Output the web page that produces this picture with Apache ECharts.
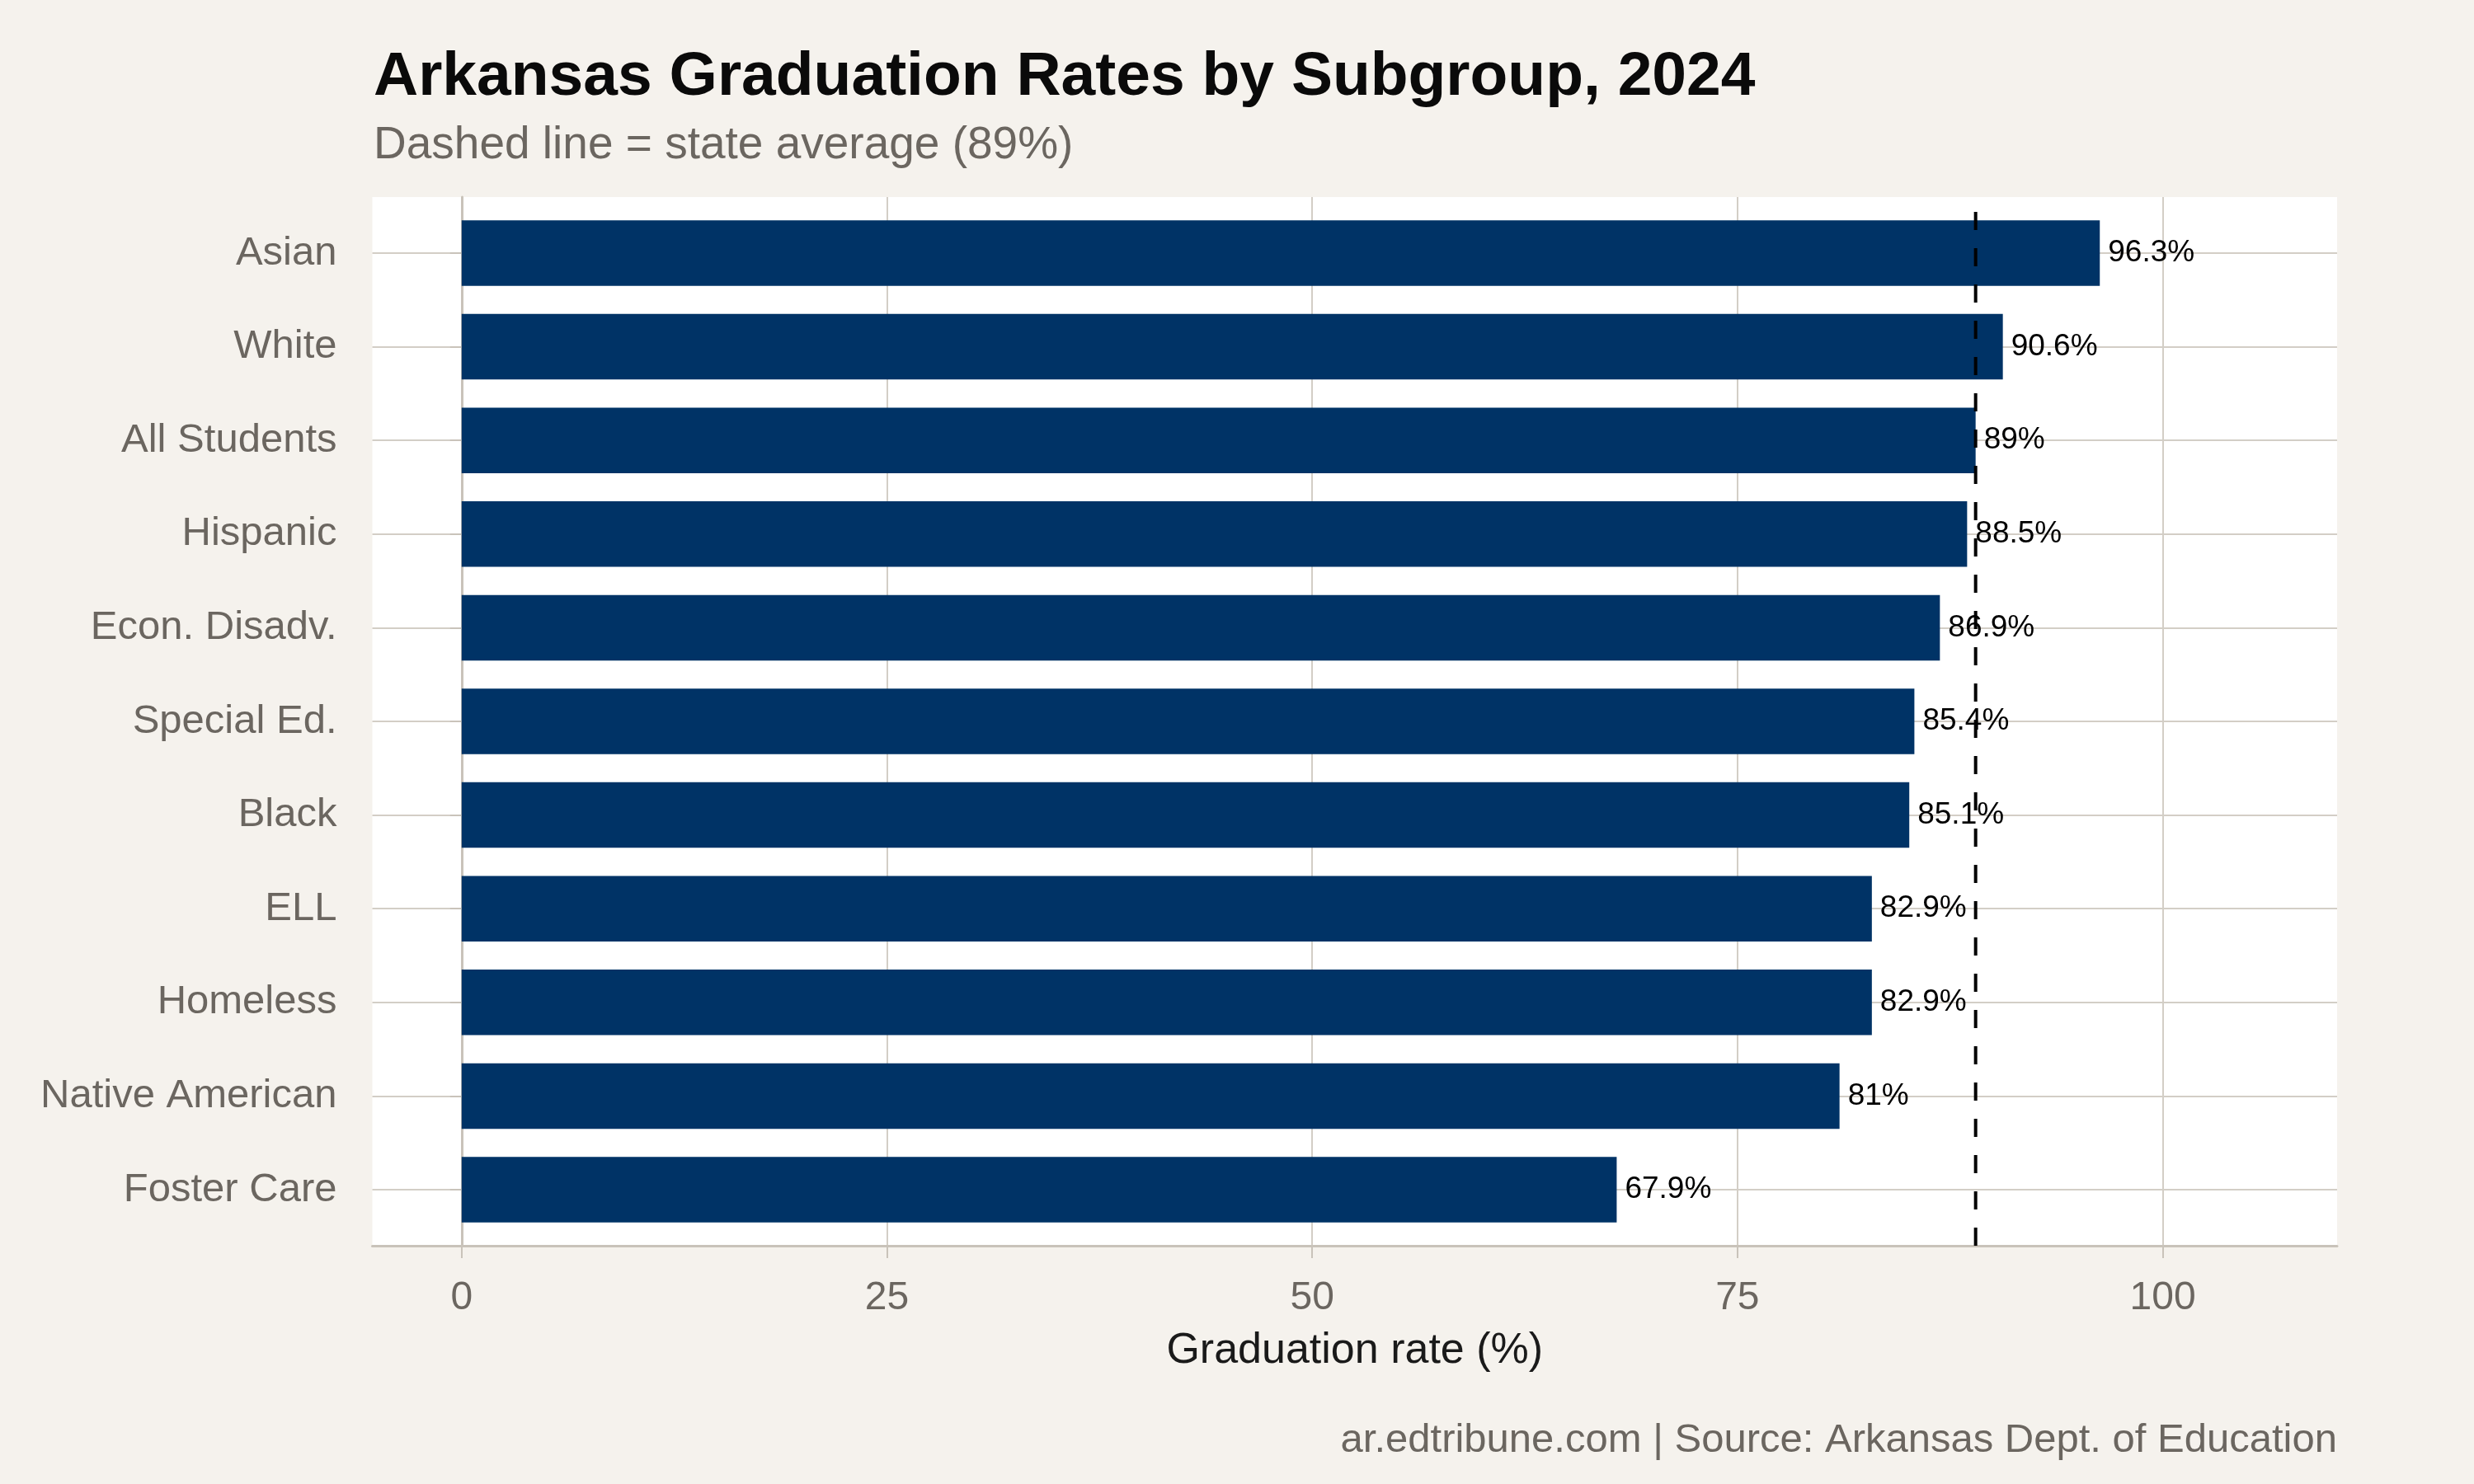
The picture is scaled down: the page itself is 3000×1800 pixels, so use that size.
<!DOCTYPE html>
<html>
<head>
<meta charset="utf-8">
<script src="https://cdn.jsdelivr.net/npm/echarts@6/dist/echarts.min.js"></script>
<style>
html,body{margin:0;padding:0;background:#f5f2ed;}
#chart{width:3000px;height:1800px;}
</style>
</head>
<body>
<div id="chart"></div>
<script>
const categories = ['Asian','White','All Students','Hispanic','Econ. Disadv.','Special Ed.','Black','ELL','Homeless','Native American','Foster Care'];
const rates = [96.3, 90.6, 89, 88.5, 86.9, 85.4, 85.1, 82.9, 82.9, 81, 67.9];
const stateAverage = 89;
const xTicks = [0, 25, 50, 75, 100];
const titleText = 'Arkansas Graduation Rates by Subgroup, 2024';
const subtitleText = 'Dashed line = state average (89%)';
const captionText = 'ar.edtribune.com | Source: Arkansas Dept. of Education';

const FONT = '"Liberation Sans", Arial, Helvetica, sans-serif';
const GRAY = '#6b6660';
const GRID = '#d3cec6';
const AXIS = '#c9c3ba';

const chart = echarts.init(document.getElementById('chart'), null, {renderer: 'canvas'});
const L = 451.5, R = 3000 - 2834, T = 239, B = 1800 - 1511;

chart.setOption({
  backgroundColor: '#f5f2ed',
  animation: false,
  graphic: [
    {type:'text', left: 453, top: 57, style:{text: titleText, font: 'bold 75px ' + FONT, fill:'#0a0a0a'}},
    {type:'text', left: 453, top: 149, style:{text: subtitleText, font: '55px ' + FONT, fill: GRAY}},
    {type:'text', right: 166, top: 1723, style:{text: captionText, font: '49px ' + FONT, fill: GRAY}}
  ],
  grid: [
    {left: L, right: R, top: T, bottom: B, show: true, backgroundColor: '#ffffff', borderWidth: 0},
    {left: L, right: R, top: 307, bottom: 1800 - 1443, show: false}
  ],
  xAxis: [
    {
      type: 'value', gridIndex: 0, min: -5.25, max: 110.25,
      axisLine: {show: true, onZero: false, lineStyle: {color: AXIS, width: 3}},
      axisTick: {show: true, length: 15, customValues: xTicks, lineStyle: {color: AXIS, width: 2}},
      axisLabel: {show: true, customValues: xTicks, margin: 40, color: GRAY, fontSize: 48, fontFamily: FONT},
      splitLine: {show: true, lineStyle: {color: GRID, width: 2}},
      name: 'Graduation rate (%)', nameLocation: 'middle', nameGap: 102,
      nameTextStyle: {color: '#1a1a1a', fontSize: 52, fontFamily: FONT}
    },
    {
      type: 'value', gridIndex: 1, min: -5.25, max: 110.25, show: false
    }
  ],
  yAxis: [
    {
      type: 'value', gridIndex: 0, min: 0, max: 1,
      axisLine: {show: true, lineStyle: {color: AXIS, width: 3}},
      axisTick: {show: false}, axisLabel: {show: false}, splitLine: {show: false}
    },
    {
      type: 'category', gridIndex: 1, data: categories, inverse: true, boundaryGap: false,
      axisLine: {show: false},
      axisTick: {show: true, length: 14, lineStyle: {color: AXIS, width: 2}},
      axisLabel: {margin: 43, color: GRAY, fontSize: 49, fontFamily: FONT, padding: [8, 0, 0, 0]},
      splitLine: {show: true, lineStyle: {color: GRID, width: 2}}
    }
  ],
  series: [
    {
      type: 'bar', xAxisIndex: 1, yAxisIndex: 1, data: rates, barWidth: '70%', clip: false,
      itemStyle: {color: '#003366'},
      label: {show: true, position: 'right', distance: 10, color: '#000', fontSize: 37, fontFamily: FONT,
              padding: [6, 0, 0, 0], formatter: p => p.value + '%'},
      z: 3
    },
    {
      type: 'line', xAxisIndex: 0, yAxisIndex: 0, data: [[stateAverage, 0], [stateAverage, 1]],
      symbol: 'none', lineStyle: {color: '#000', width: 4, type: [22, 22]}, z: 5, silent: true
    }
  ]
});
</script>
</body>
</html>
